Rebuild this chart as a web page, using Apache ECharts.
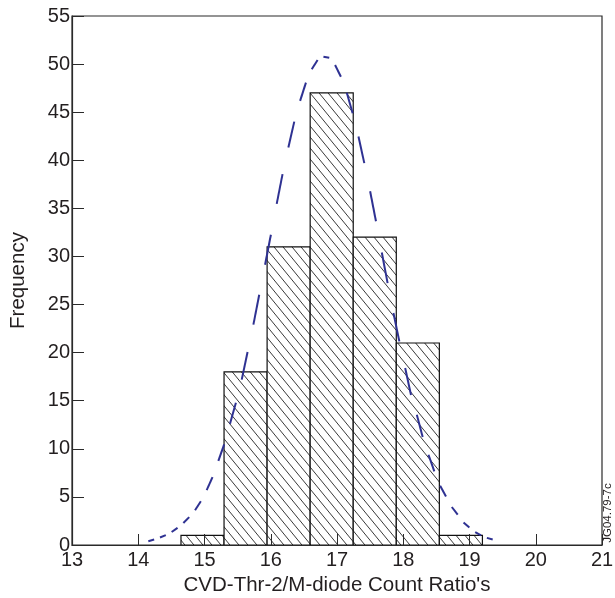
<!DOCTYPE html>
<html>
<head>
<meta charset="utf-8">
<script src="https://cdn.jsdelivr.net/npm/echarts@6/dist/echarts.min.js"></script>
<style>
html,body{margin:0;padding:0;background:#fff;}
#chart{width:615px;height:598px;}
</style>
</head>
<body>
<div id="chart"></div>
<script>
// Histogram bin edges and frequencies
var binEdges = [14.645, 15.295, 15.945, 16.595, 17.245, 17.895, 18.545, 19.195];
var freq = [1, 18, 31, 47, 32, 21, 1];

// Fitted curve: dash endpoints (pairs: 0-1, 2-3, ...)
var curveX = [14.152, 14.240, 14.328, 14.416, 14.504, 14.593, 14.681, 14.769, 14.857, 14.945,
              15.033, 15.121, 15.209, 15.297, 15.385, 15.474, 15.562, 15.650, 15.738, 15.826,
              15.914, 16.002, 16.090, 16.178, 16.266, 16.355, 16.443, 16.531, 16.619, 16.707,
              16.795, 16.883, 16.971, 17.059, 17.148, 17.236, 17.324, 17.412, 17.500, 17.588,
              17.676, 17.764, 17.852, 17.941, 18.029, 18.117, 18.205, 18.293, 18.381, 18.469,
              18.557, 18.645, 18.733, 18.822, 18.910, 18.998, 19.086, 19.174, 19.262, 19.350];
var curveY = [0.39, 0.57, 0.78, 1.02, 1.35, 1.78, 2.28, 2.90, 3.62, 4.55,
              5.70, 7.05, 8.74, 10.47, 12.60, 14.80, 17.19, 20.07, 22.91, 26.02,
              29.14, 32.26, 35.47, 38.56, 41.32, 44.02, 46.17, 48.07, 49.46, 50.43,
              50.77, 50.67, 49.91, 48.69, 47.03, 44.89, 42.47, 39.70, 36.78, 33.66,
              30.41, 27.23, 24.12, 21.17, 18.41, 15.60, 13.54, 11.22, 9.38, 7.65,
              6.16, 5.05, 3.95, 3.15, 2.35, 1.83, 1.35, 1.00, 0.74, 0.57];

var xTicks = [13, 14, 15, 16, 17, 18, 19, 20, 21];
var yTicks = [0, 5, 10, 15, 20, 25, 30, 35, 40, 45, 50, 55];

// hatch pattern
var cv = document.createElement('canvas');
cv.width = 9; cv.height = 11;
var cx = cv.getContext('2d');
cx.fillStyle = '#ffffff';
cx.fillRect(0, 0, 9, 11);
cx.strokeStyle = '#3a3a3a';
cx.lineWidth = 1;
[-9, 0, 9].forEach(function (o) {
  cx.beginPath();
  cx.moveTo(o, 0);
  cx.lineTo(o + 9, 11);
  cx.stroke();
});
var hatch = { image: cv, repeat: 'repeat' };

var barData = [];
for (var i = 0; i < freq.length; i++) {
  barData.push([binEdges[i], binEdges[i + 1], freq[i]]);
}
var dashData = [];
for (var j = 0; j + 1 < curveX.length; j += 2) {
  dashData.push([curveX[j], curveY[j], curveX[j + 1], curveY[j + 1]]);
}

var textColor = '#231f20';
var chart = echarts.init(document.getElementById('chart'), null, { renderer: 'canvas' });
chart.setOption({
  animation: false,
  backgroundColor: '#ffffff',
  grid: { left: 72, right: 13, top: 16, bottom: 53, containLabel: false, outerBoundsMode: 'none',
          show: true, borderColor: '#2a2a2a', borderWidth: 1.2, backgroundColor: 'transparent' },
  xAxis: {
    type: 'value', min: xTicks[0], max: xTicks[xTicks.length - 1], interval: 1, z: 5,
    name: "CVD-Thr-2/M-diode Count Ratio's", nameLocation: 'middle', nameGap: 27,
    nameTextStyle: { fontFamily: 'Liberation Sans', fontSize: 20.5, color: textColor },
    axisLine: { show: true, lineStyle: { color: '#2a2a2a', width: 1.2 } },
    axisTick: { show: true, inside: true, length: 11, lineStyle: { color: '#2a2a2a', width: 1 } },
    axisLabel: { fontFamily: 'Liberation Sans', fontSize: 20, color: textColor, margin: 5 },
    splitLine: { show: false }
  },
  yAxis: {
    type: 'value', min: yTicks[0], max: yTicks[yTicks.length - 1], interval: 5, z: 5,
    name: 'Frequency', nameLocation: 'middle', nameGap: 43, nameRotate: 90,
    nameTextStyle: { fontFamily: 'Liberation Sans', fontSize: 20.5, color: textColor },
    axisLine: { show: true, lineStyle: { color: '#2a2a2a', width: 1.2 } },
    axisTick: { show: true, inside: true, length: 12, lineStyle: { color: '#2a2a2a', width: 1 } },
    axisLabel: { fontFamily: 'Liberation Sans', fontSize: 20, color: textColor, margin: 2 },
    splitLine: { show: false }
  },
  series: [
    {
      type: 'custom',
      data: barData,
      encode: { x: [0, 1], y: 2 },
      z: 2,
      renderItem: function (params, api) {
        var p0 = api.coord([api.value(0), api.value(2)]);
        var p1 = api.coord([api.value(1), 0]);
        return {
          type: 'rect',
          shape: { x: p0[0], y: p0[1], width: p1[0] - p0[0], height: p1[1] - p0[1] },
          style: { fill: hatch, stroke: '#111111', lineWidth: 1.2 }
        };
      }
    },
    {
      type: 'custom',
      data: dashData,
      encode: { x: [0, 2], y: [1, 3] },
      z: 6,
      renderItem: function (params, api) {
        var a = api.coord([api.value(0), api.value(1)]);
        var b = api.coord([api.value(2), api.value(3)]);
        return {
          type: 'line',
          shape: { x1: a[0], y1: a[1], x2: b[0], y2: b[1] },
          style: { stroke: '#2e3192', lineWidth: 2, lineCap: 'butt' }
        };
      }
    }
  ],
  graphic: [
    {
      type: 'text', x: 602, y: 513, rotation: Math.PI / 2,
      style: { text: 'JG04.79-7c', fontFamily: 'Liberation Sans', fontSize: 11.5, fill: textColor, align: 'center', verticalAlign: 'top' }
    }
  ]
});
</script>
</body>
</html>
